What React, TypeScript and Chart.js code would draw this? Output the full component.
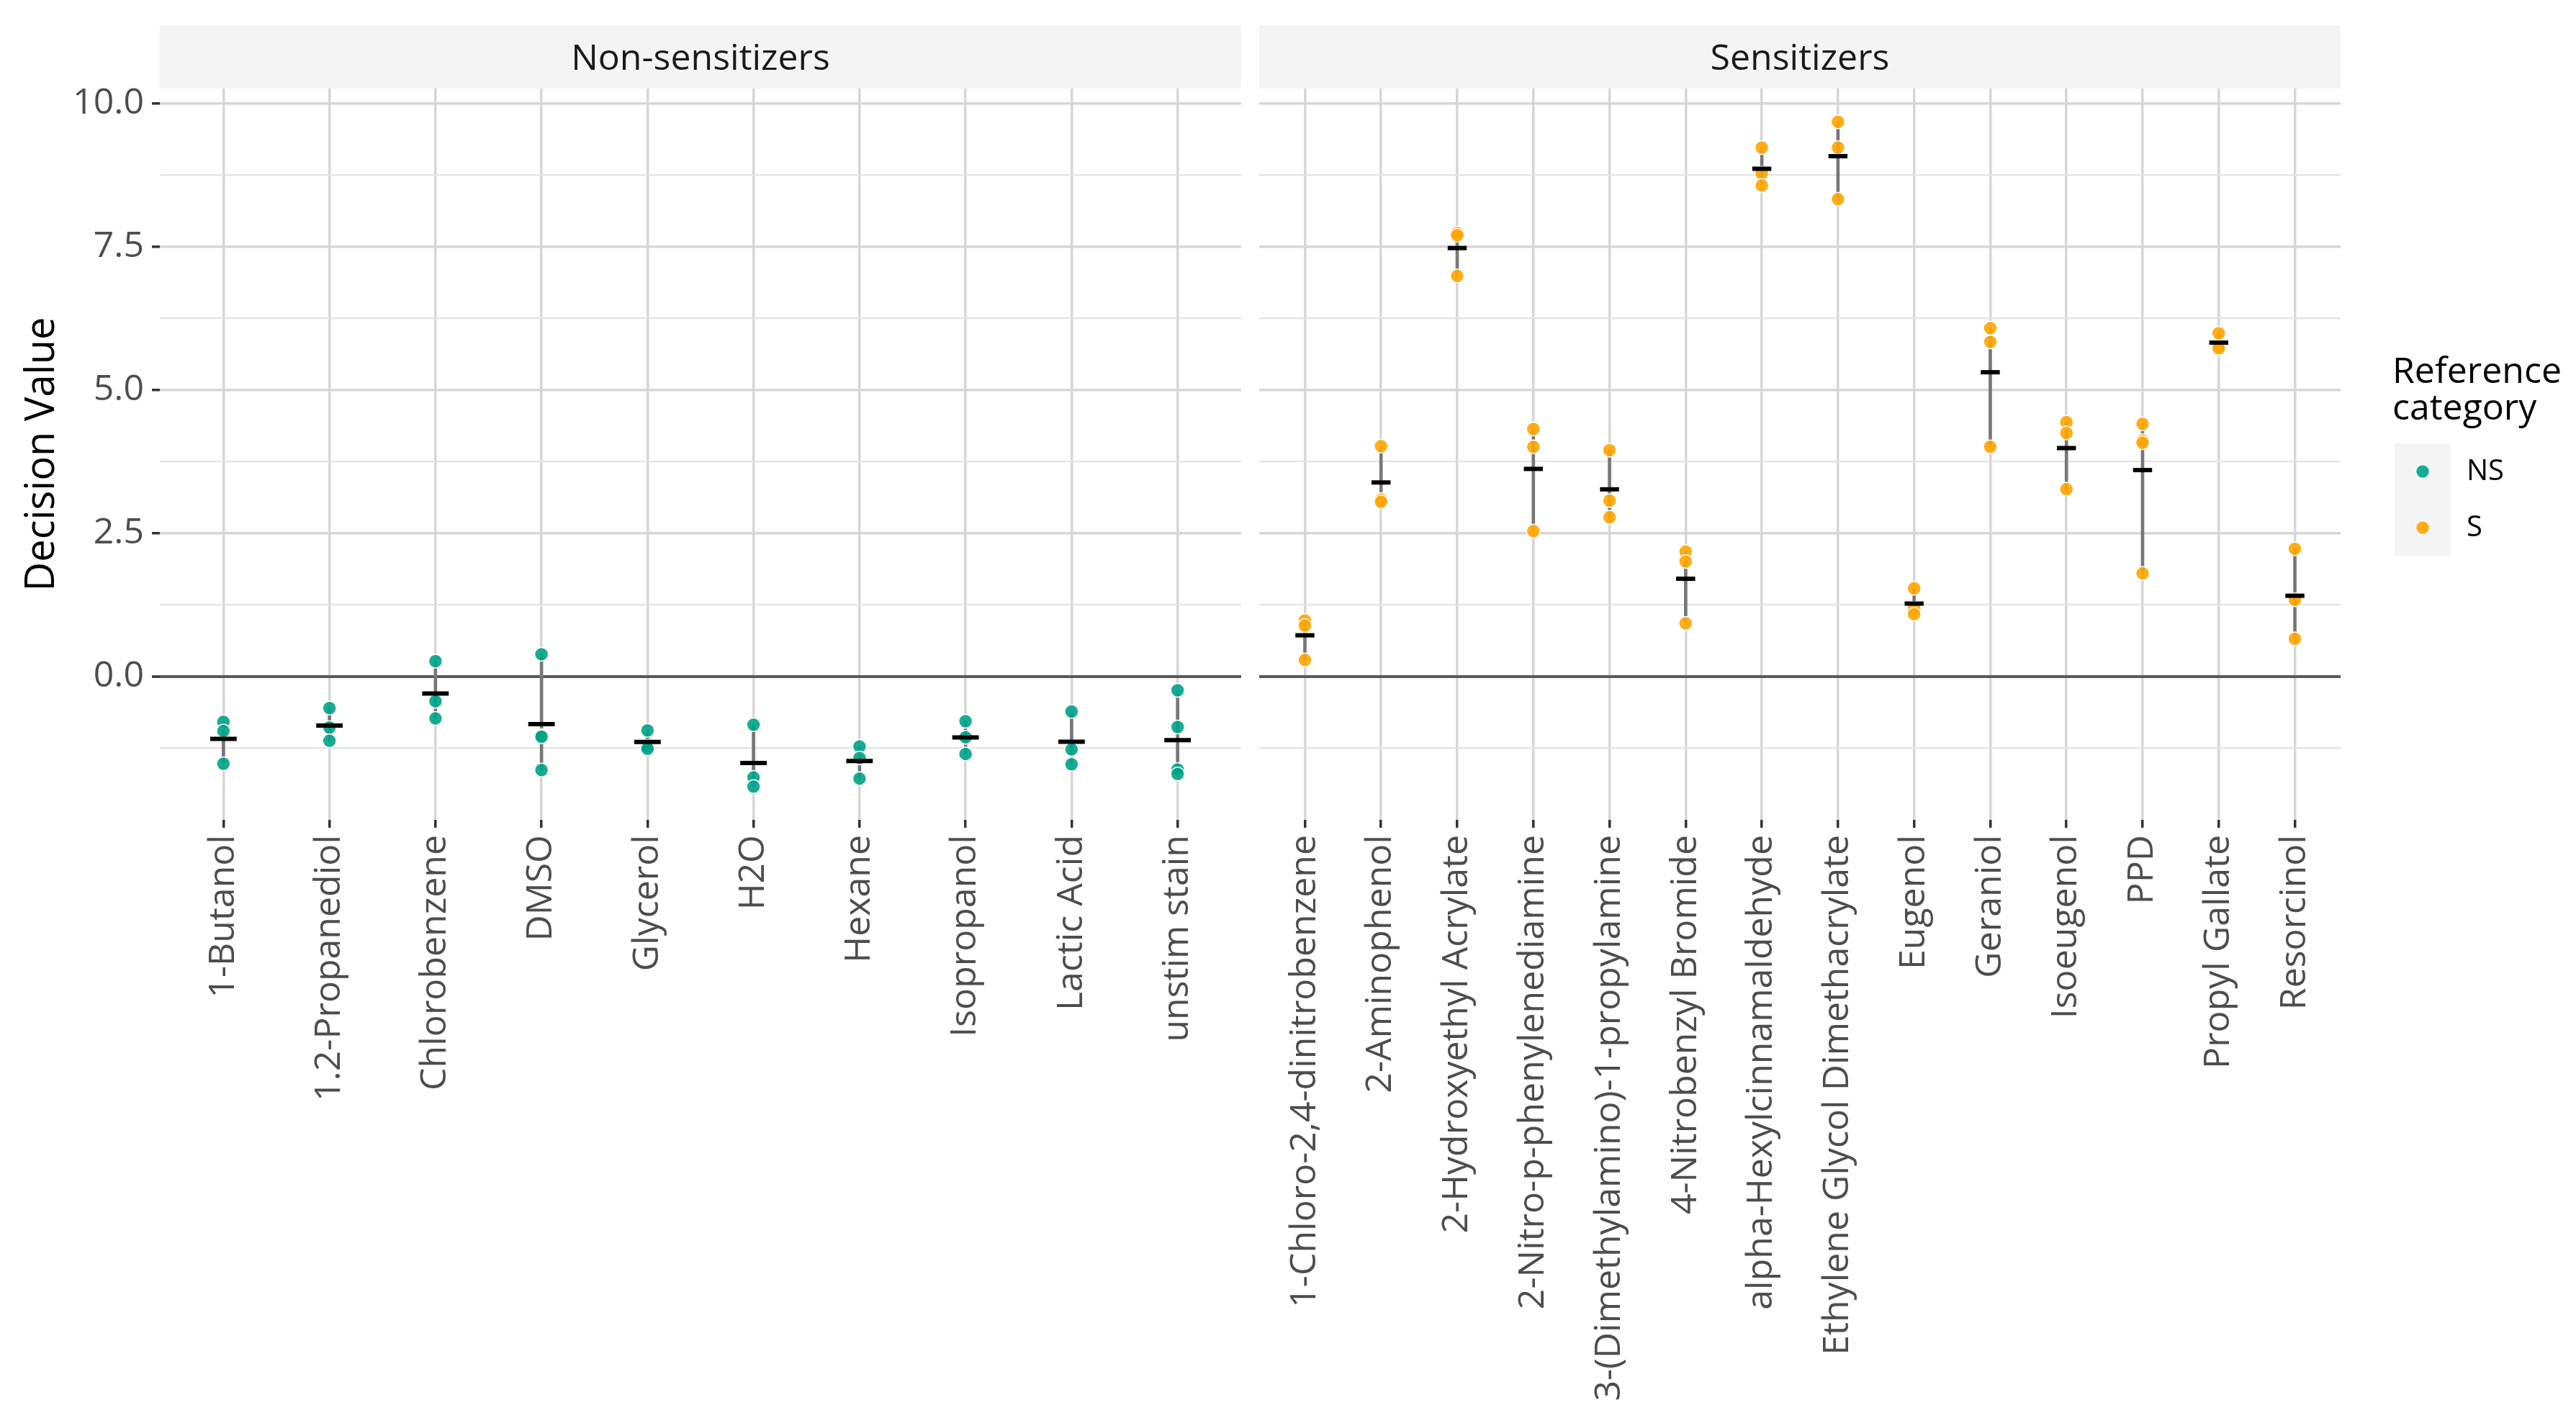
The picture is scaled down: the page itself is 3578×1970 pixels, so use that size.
import React, { useEffect, useRef } from 'react';
import { Chart, registerables } from 'chart.js';

Chart.register(...registerables);

// ---------------- data ----------------
const nsCategories = [
  '1-Butanol', '1.2-Propanediol', 'Chlorobenzene', 'DMSO', 'Glycerol',
  'H2O', 'Hexane', 'Isopropanol', 'Lactic Acid', 'unstim stain',
];
const nsValues = [
  [-0.79, -0.95, -1.52],
  [-0.55, -0.89, -1.12],
  [0.27, -0.43, -0.73],
  [0.39, -1.03, -1.05, -1.63],
  [-0.94, -1.22, -1.26],
  [-0.84, -1.76, -1.92],
  [-1.22, -1.42, -1.78],
  [-0.78, -1.06, -1.35],
  [-0.61, -1.27, -1.53],
  [-0.24, -0.88, -1.62, -1.70],
];
const sCategories = [
  '1-Chloro-2,4-dinitrobenzene', '2-Aminophenol', '2-Hydroxyethyl Acrylate',
  '2-Nitro-p-phenylenediamine', '3-(Dimethylamino)-1-propylamine', '4-Nitrobenzyl Bromide',
  'alpha-Hexylcinnamaldehyde', 'Ethylene Glycol Dimethacrylate', 'Eugenol', 'Geraniol',
  'Isoeugenol', 'PPD', 'Propyl Gallate', 'Resorcinol',
];
const sValues = [
  [0.98, 0.89, 0.29],
  [4.02, 3.09, 3.05],
  [7.74, 7.70, 6.99],
  [4.32, 4.01, 2.54],
  [3.95, 3.07, 2.78],
  [2.18, 2.01, 0.93],
  [9.23, 8.78, 8.57],
  [9.68, 9.23, 8.33],
  [1.54, 1.19, 1.09],
  [6.08, 5.84, 4.01],
  [4.44, 4.25, 3.27],
  [4.41, 4.12, 4.08, 1.80],
  [5.99, 5.76, 5.73],
  [2.23, 1.34, 0.66],
];
const panelTitles = ['Non-sensitizers', 'Sensitizers'];
const legendTitle = ['Reference', 'category'];
const legendLabels = ['NS', 'S'];
const yMajorTicks = [0, 2.5, 5, 7.5, 10];
const yMinorTicks = [-1.25, 1.25, 3.75, 6.25, 8.75];

// ---------------- style ----------------
const FONT = "'Open Sans', 'Noto Sans', sans-serif";
const W = 3578;
const H = 1970;
const LEFT_W = 1736;
const PANEL_TOP = 123;
const PANEL_BOTTOM = 1139;
const STRIP_TOP = 35;
const COLORS = ['rgba(0,163,136,0.9)', 'rgba(255,165,0,0.9)'];
const POINT_R = 9.5;

const allVals = [...nsValues.flat(), ...sValues.flat()];
const dMin = Math.min(...allVals);
const dMax = Math.max(...allVals);
const yPad = (dMax - dMin) * 0.05;
const Y_MIN = dMin - yPad;
const Y_MAX = dMax + yPad;

const isMajor = (v: number) => yMajorTicks.some((m) => Math.abs(m - v) < 1e-6);

function stripPlugin(title: string) {
  return {
    id: 'strip',
    beforeDraw(chart: any) {
      const { ctx, chartArea } = chart;
      ctx.save();
      ctx.fillStyle = '#f4f4f4';
      ctx.fillRect(chartArea.left, STRIP_TOP, chartArea.right - chartArea.left, chartArea.top - STRIP_TOP);
      ctx.fillStyle = '#1a1a1a';
      ctx.font = `50px ${FONT}`;
      ctx.textAlign = 'center';
      ctx.textBaseline = 'alphabetic';
      ctx.fillText(title, (chartArea.left + chartArea.right) / 2, 97);
      ctx.restore();
    },
  };
}

const legendPlugin = {
  id: 'ggLegend',
  afterDraw(chart: any) {
    const { ctx, chartArea } = chart;
    const x0 = chartArea.right + 72;
    ctx.save();
    ctx.fillStyle = '#000';
    ctx.font = `50px ${FONT}`;
    ctx.textAlign = 'left';
    ctx.textBaseline = 'alphabetic';
    legendTitle.forEach((t, i) => ctx.fillText(t, x0, 532 + i * 51));
    const key = 78;
    const keyX = chartArea.right + 75;
    const keyY = 616;
    ctx.fillStyle = '#f4f4f4';
    ctx.fillRect(keyX, keyY, key, key * legendLabels.length);
    legendLabels.forEach((lab, i) => {
      const cy = keyY + key * i + key / 2;
      ctx.beginPath();
      ctx.arc(keyX + key / 2, cy, POINT_R, 0, Math.PI * 2);
      ctx.fillStyle = COLORS[i];
      ctx.fill();
      ctx.lineWidth = 1.5;
      ctx.strokeStyle = '#ffffff';
      ctx.stroke();
      ctx.fillStyle = '#000';
      ctx.font = `40px ${FONT}`;
      ctx.textBaseline = 'middle';
      ctx.fillText(lab, keyX + key + 22, cy + 1);
    });
    ctx.restore();
  },
};

function makeConfig(cats: string[], values: number[][], colorIdx: number, left: boolean): any {
  const points = values.flatMap((vals, i) => vals.map((v) => ({ x: i + 1, y: v })));
  const ranges = values.map((vals, i) => ({ x: i + 1, y: [Math.min(...vals), Math.max(...vals)] }));
  const means = values.map((vals, i) => ({ x: i + 1, y: vals.reduce((a, b) => a + b, 0) / vals.length }));

  const plugins: any[] = [stripPlugin(panelTitles[left ? 0 : 1])];
  if (!left) plugins.push(legendPlugin);

  return {
    type: 'bar',
    data: {
      datasets: [
        {
          type: 'bar',
          data: ranges,
          backgroundColor: '#777777',
          borderWidth: 0,
          barThickness: 4,
          order: 3,
        },
        {
          type: 'scatter',
          data: points,
          pointRadius: POINT_R,
          pointHoverRadius: POINT_R,
          pointBackgroundColor: COLORS[colorIdx],
          pointBorderColor: '#ffffff',
          pointBorderWidth: 1.5,
          order: 2,
        },
        {
          type: 'scatter',
          data: means,
          pointStyle: 'line',
          pointRadius: (c: any) => {
            const s = c.chart.scales.x;
            return Math.abs(s.getPixelForValue(1.125) - s.getPixelForValue(1));
          },
          pointBorderColor: '#000000',
          pointBorderWidth: 6,
          order: 1,
        },
      ],
    },
    plugins,
    options: {
      animation: false,
      responsive: false,
      devicePixelRatio: 1,
      events: [],
      layout: {
        padding: left
          ? { top: PANEL_TOP, left: 0, right: 12, bottom: 0 }
          : { top: PANEL_TOP, left: 13, right: 327, bottom: 0 },
      },
      plugins: {
        legend: { display: false },
        tooltip: { enabled: false },
        title: { display: false },
      },
      scales: {
        x: {
          type: 'linear',
          min: 0.4,
          max: cats.length + 0.6,
          offset: false,
          afterBuildTicks: (scale: any) => {
            scale.ticks = cats.map((_, i) => ({ value: i + 1 }));
          },
          afterFit: (scale: any) => {
            scale.height = H - PANEL_BOTTOM;
          },
          border: { display: false },
          grid: {
            offset: false,
            color: '#d6d6d6',
            lineWidth: 3.5,
            drawTicks: true,
            tickLength: 11,
            tickColor: '#333333',
            tickWidth: 3.5,
          },
          ticks: {
            autoSkip: false,
            maxRotation: 90,
            minRotation: 90,
            padding: 10,
            color: '#4d4d4d',
            font: { size: 50, family: FONT },
            callback: (v: any) => cats[Math.round(v) - 1] ?? '',
          },
        },
        y: {
          type: 'linear',
          min: Y_MIN,
          max: Y_MAX,
          afterBuildTicks: (scale: any) => {
            scale.ticks = [...yMinorTicks, ...yMajorTicks].sort((a, b) => a - b).map((v) => ({ value: v }));
          },
          afterFit: (scale: any) => {
            scale.width = left ? 222 : 0;
          },
          border: { display: false },
          title: left
            ? {
                display: true,
                text: 'Decision Value',
                color: '#000000',
                font: { size: 56, family: FONT },
                padding: { top: 25, bottom: 0 },
              }
            : { display: false },
          grid: {
            color: (c: any) =>
              Math.abs(c.tick.value) < 1e-6 ? '#595959' : isMajor(c.tick.value) ? '#d6d6d6' : '#e3e3e3',
            lineWidth: (c: any) =>
              Math.abs(c.tick.value) < 1e-6 ? 4 : isMajor(c.tick.value) ? 3.5 : 2.2,
            drawTicks: left,
            tickLength: left ? 11 : 0,
            tickColor: (c: any) => (isMajor(c.tick.value) ? '#333333' : 'rgba(0,0,0,0)'),
            tickWidth: 3.5,
          },
          ticks: {
            display: left,
            padding: 11,
            color: '#4d4d4d',
            font: { size: 50, family: FONT },
            callback: (v: any) => (isMajor(v) ? Number(v).toFixed(1) : ''),
          },
        },
      },
    },
  };
}

export default function App() {
  const leftRef = useRef<HTMLCanvasElement>(null);
  const rightRef = useRef<HTMLCanvasElement>(null);

  useEffect(() => {
    document.body.style.margin = '0';
    document.body.style.overflow = 'hidden';
    Chart.defaults.font.family = FONT;
    const c1 = new Chart(leftRef.current as HTMLCanvasElement, makeConfig(nsCategories, nsValues, 0, true));
    const c2 = new Chart(rightRef.current as HTMLCanvasElement, makeConfig(sCategories, sValues, 1, false));
    return () => {
      c1.destroy();
      c2.destroy();
    };
  }, []);

  return (
    <div
      style={{
        position: 'absolute',
        left: 0,
        top: 0,
        width: W,
        height: H,
        overflow: 'hidden',
        background: '#ffffff',
      }}
    >
      <canvas
        ref={leftRef}
        width={LEFT_W}
        height={H}
        style={{ position: 'absolute', left: 0, top: 0, width: LEFT_W, height: H }}
      />
      <canvas
        ref={rightRef}
        width={W - LEFT_W}
        height={H}
        style={{ position: 'absolute', left: LEFT_W, top: 0, width: W - LEFT_W, height: H }}
      />
    </div>
  );
}
